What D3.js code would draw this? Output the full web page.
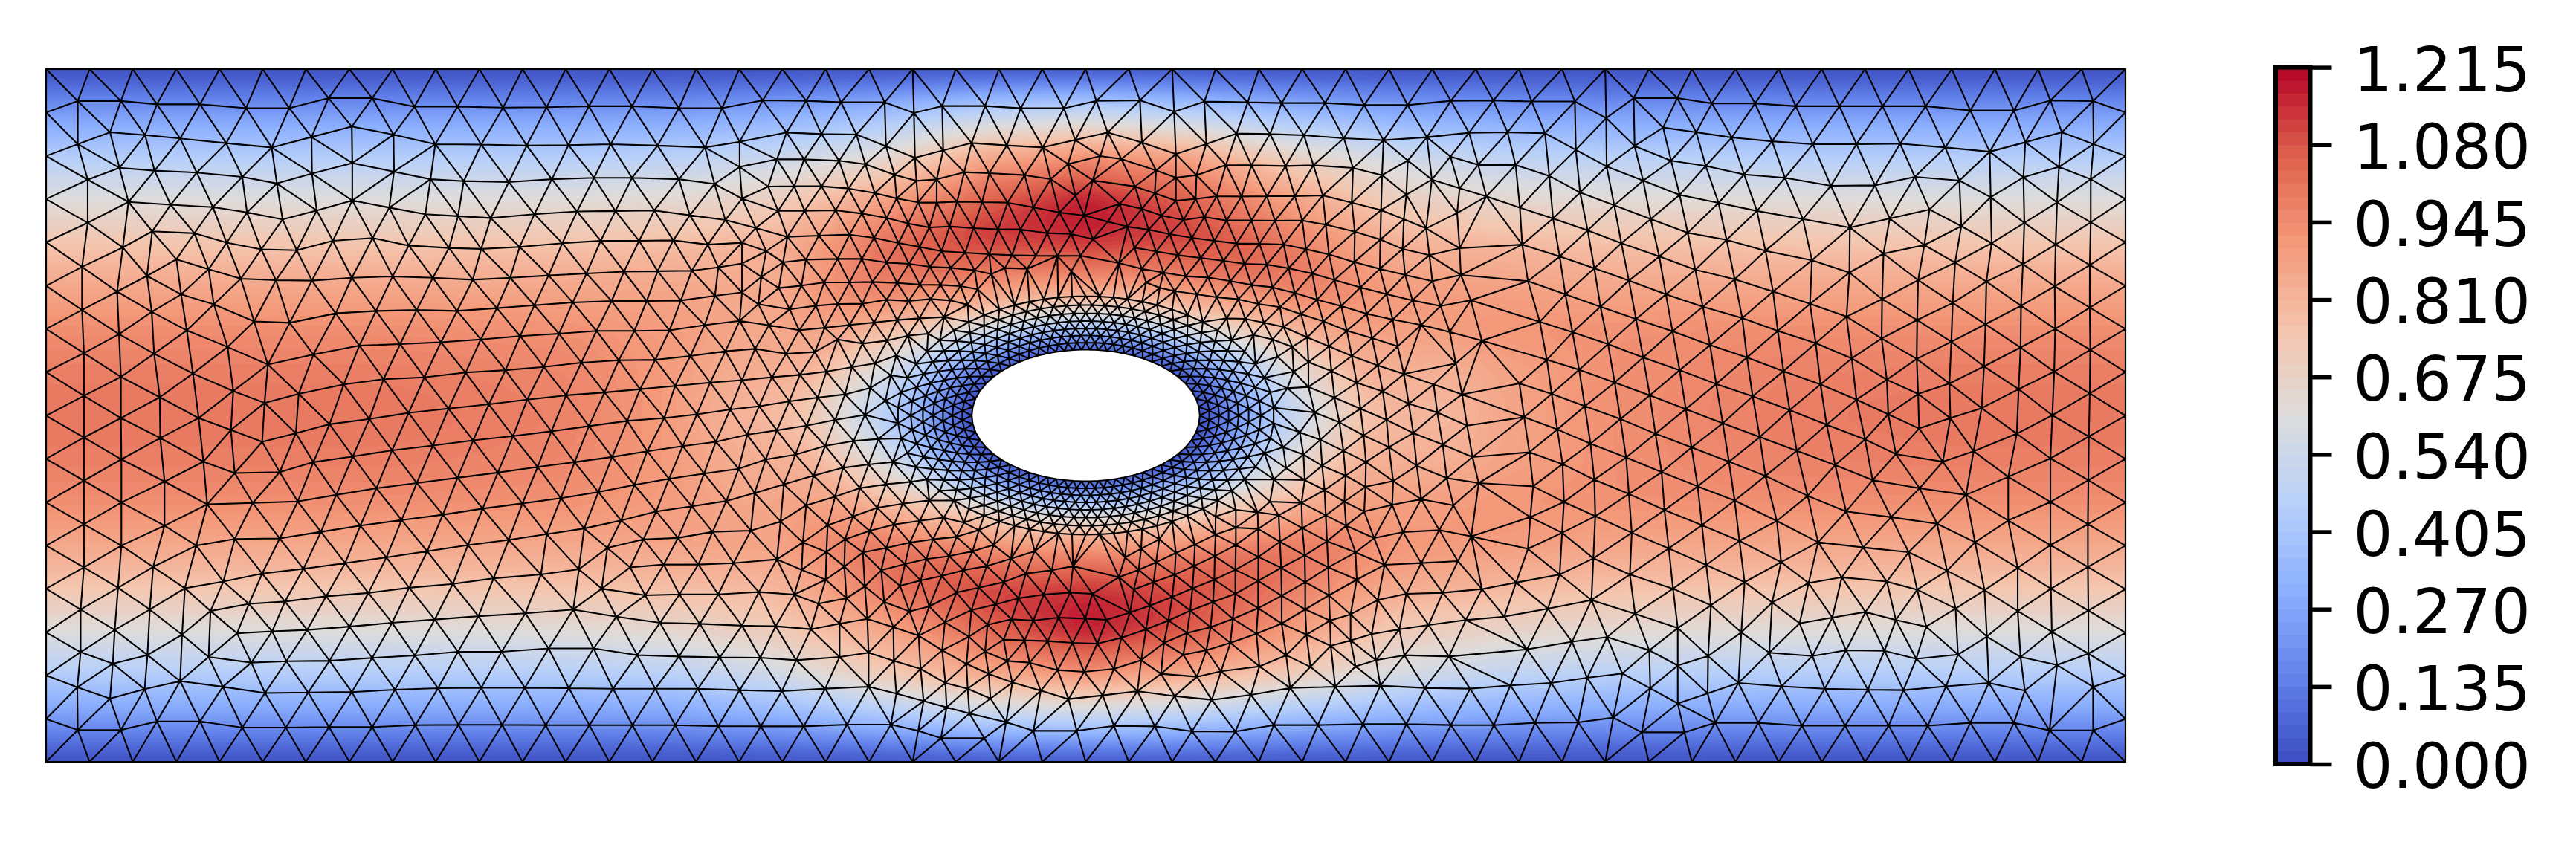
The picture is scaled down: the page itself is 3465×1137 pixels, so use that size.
<!DOCTYPE html>
<html>
<head>
<meta charset="utf-8">
<script src="https://cdn.jsdelivr.net/npm/d3@7"></script>
<style>
  body { margin: 0; background: #fff; }
  svg { display: block; }
  text { font-family: "DejaVu Sans", sans-serif; }
</style>
</head>
<body>
<svg id="chart" width="3465" height="1137"></svg>
<script>
// colour scale
const colorTicks = [0, 0.135, 0.27, 0.405, 0.54, 0.675, 0.81, 0.945, 1.08, 1.215];
const coolwarm = ['#3b4cc0', '#6282ea', '#8db0fe', '#b8d0f9', '#dddcdc', '#f4c4ac', '#f4987a', '#de604d', '#b40426'];

// speed, away from the obstacle
const fieldX = [0, 0.25, 0.5, 0.75, 0.9, 1.05, 1.2, 1.35, 1.5, 1.65, 1.8, 1.95, 2.1, 2.25, 2.5, 2.75, 3];
const fieldY = [0, 0.0625, 0.125, 0.1875, 0.25, 0.3125, 0.375, 0.4375, 0.5, 0.5625, 0.625, 0.6875, 0.75, 0.8125, 0.875, 0.9375, 1];
const fieldValues = [
  [0, 0, 0, 0, 0, 0, 0, 0, 0, 0, 0, 0, 0, 0, 0, 0, 0],
  [.23, .23, .23, .23, .24, .30, .38, .48, .50, .45, .36, .30, .26, .24, .23, .23, .23],
  [.44, .44, .44, .44, .46, .55, .72, .85, .92, .85, .72, .58, .49, .46, .44, .44, .44],
  [.61, .61, .61, .62, .65, .72, .85, 1.03, 1.18, 1.08, .90, .72, .67, .64, .62, .61, .61],
  [.75, .75, .75, .76, .78, .80, .98, 1.12, 1.19, 1.10, .98, .85, .80, .77, .76, .75, .75],
  [.86, .86, .86, .86, .87, .88, 1.0, 1.02, 1.0, 1.05, 1.0, .92, .90, .87, .86, .86, .86],
  [.94, .94, .94, .93, .90, .85, .8, .7, .7, .72, .8, .88, .92, .93, .94, .94, .94],
  [.98, .98, .98, .96, .90, .80, .62, .4, .3, .4, .6, .78, .87, .93, .97, .98, .98],
  [1, 1, 1, .97, .90, .76, .55, .3, 0, .3, .55, .74, .86, .93, .98, 1, 1],
  [.98, .98, .98, .96, .90, .80, .62, .4, .3, .4, .6, .78, .87, .93, .97, .98, .98],
  [.94, .94, .94, .93, .90, .85, .8, .7, .7, .72, .8, .88, .92, .93, .94, .94, .94],
  [.86, .86, .86, .86, .86, .85, .96, 1.0, .95, 1.0, .97, .90, .88, .86, .86, .86, .86],
  [.75, .75, .75, .76, .78, .82, 1.0, 1.15, 1.2, 1.12, .98, .82, .80, .77, .76, .75, .75],
  [.61, .61, .61, .62, .64, .70, .87, 1.05, 1.18, 1.06, .88, .70, .65, .63, .62, .61, .61],
  [.44, .44, .44, .44, .46, .52, .62, .85, .93, .88, .68, .55, .48, .46, .44, .44, .44],
  [.23, .23, .23, .23, .24, .28, .36, .48, .52, .46, .35, .28, .25, .24, .23, .23, .23],
  [0, 0, 0, 0, 0, 0, 0, 0, 0, 0, 0, 0, 0, 0, 0, 0, 0]
];

// speed around the obstacle: angle on the ellipse against distance in ellipse radii
const nearAngle = [0, 30, 60, 90, 120, 150, 180, 210, 240, 270, 300, 330];
const nearRadius = [1, 1.1, 1.25, 1.5, 1.75, 2, 2.5, 3.2];
const nearValues = [
  [0, .06, .16, .34, .47, .58, .78, .90],
  [0, .08, .20, .40, .55, .68, .86, .98],
  [0, .12, .30, .54, .72, .86, 1.02, 1.10],
  [0, .13, .33, .58, .78, .92, 1.10, 1.21],
  [0, .12, .30, .54, .72, .86, 1.02, 1.10],
  [0, .08, .20, .40, .55, .68, .86, .96],
  [0, .06, .16, .33, .45, .55, .76, .88],
  [0, .08, .20, .40, .55, .68, .86, .96],
  [0, .12, .30, .54, .72, .86, 1.02, 1.10],
  [0, .13, .33, .58, .78, .92, 1.10, 1.21],
  [0, .12, .30, .54, .72, .86, 1.02, 1.10],
  [0, .08, .20, .40, .55, .68, .86, .98]
];

// obstacle and the fine rings of elements round it
const ellipseA = 0.1645;
const ellipseB = 0.095;
const ringOffsetA = [0, 0.014, 0.028, 0.042, 0.056, 0.071, 0.088, 0.107];
const ringOffsetB = [0, 0.0102, 0.0204, 0.0306, 0.0413, 0.0526, 0.0644, 0.0772];
const ringNodes = 62;

const meshLeft = [
  97,52, 189,52, 280,52, 372,52, 463,52, 554,52, 645,52, 737,52, 828,52, 919,52, 1011,52, 1102,52, 1193,52, 1285,52, 1376,52, 1468,52, 1559,52,
  97,143, 97,235, 97,326, 97,417, 97,509, 97,600, 97,691, 97,783, 97,874, 97,966, 97,1057, 97,1148, 97,1240, 97,1331, 97,1423, 97,1513,
  164,119, 255,119, 331,126, 422,126, 519,134, 610,134, 693,113, 785,113, 874,131, 965,131, 1061,133, 1153,132, 1242,130, 1333,130, 1432,134, 1523,134,
  164,210, 232,185, 306,191, 380,198, 477,208, 573,217, 657,195, 742,173, 830,190, 918,210, 1015,211, 1111,213, 1199,212, 1288,210, 1387,213, 1487,217, 1560,205,
  185,285, 252,260, 326,266, 415,270, 511,279, 584,293, 658,272, 743,250, 831,268, 908,284, 978,288, 1073,290, 1164,284, 1253,281, 1333,281, 1432,284, 1507,294, 1560,258,
  271,332, 360,338, 449,343, 521,354, 596,369, 668,350, 743,329, 821,344, 897,358, 966,362, 1035,366, 1127,358, 1217,352, 1298,351, 1380,350, 1455,360, 1530,370, 1565,325,
  185,376, 259,428, 321,394, 410,398, 478,418, 551,432, 626,434, 702,414, 786,408, 862,424, 947,429, 1015,431, 1096,427, 1186,419, 1267,414, 1348,414, 1420,413, 1493,422, 1565,418,
  173,469, 372,453, 440,474, 508,494, 582,497, 658,498, 742,492, 828,489, 913,492, 997,496, 1076,492, 1157,487, 1237,483, 1316,479, 1387,478, 1459,477, 1515,470, 1565,462,
  247,521, 310,488, 382,527, 451,548, 536,584, 611,587, 708,567, 793,562, 879,560, 964,562, 1048,556, 1127,550, 1208,544, 1290,541, 1364,541, 1436,540, 1508,530, 1565,523,
  173,560, 320,564, 394,603, 480,638, 565,675, 661,654, 758,635, 844,632, 930,628, 1014,622, 1097,615, 1179,610, 1258,604, 1338,604, 1412,603, 1486,592, 1560,583,
  177,651, 251,611, 325,652, 407,694, 492,731, 558,756, 630,737, 725,717, 809,706, 895,702, 982,692, 1066,687, 1147,680, 1226,671, 1305,666, 1382,665, 1456,657, 1530,647,
  177,741, 255,701, 337,744, 419,788, 487,813, 553,838, 624,820, 695,801, 779,790, 862,777, 946,768, 1031,759, 1112,749, 1194,740, 1275,734, 1350,727, 1424,720, 1498,713, 1565,708,
  177,829, 255,788, 338,830, 429,880, 495,904, 590,902, 661,881, 744,869, 827,856, 913,846, 998,835, 1082,826, 1163,816, 1242,805, 1323,794, 1401,788, 1470,780, 1540,770,
  177,920, 256,875, 347,922, 437,970, 533,967, 628,964, 709,950, 794,936, 879,925, 965,914, 1050,903, 1134,891, 1212,881, 1291,870, 1365,858, 1440,847, 1510,838,
  177,1012, 256,966, 347,1015, 414,1057, 495,1043, 590,1042, 677,1028, 760,1015, 847,1003, 934,992, 1018,979, 1102,968, 1183,957, 1262,944, 1338,929, 1411,916, 1485,905, 1558,895,
  177,1103, 256,1057, 323,1102, 390,1147, 471,1133, 553,1116, 640,1106, 728,1094, 815,1082, 901,1069, 987,1056, 1073,1045, 1153,1033, 1232,1021, 1310,1004, 1384,985, 1459,974, 1532,963,
  170,1192, 249,1146, 316,1192, 384,1245, 444,1195, 525,1180, 601,1175, 688,1164, 777,1157, 863,1146, 955,1138, 1041,1126, 1141,1118, 1221,1107, 1281,1062, 1357,1044, 1430,1041, 1503,1028,
  242,1235, 500,1242, 574,1238, 648,1235, 737,1228, 827,1220, 917,1213, 1009,1206, 1108,1200, 1209,1192, 1269,1148, 1329,1103, 1400,1097, 1473,1097, 1547,1094,
  1361,1162, 1433,1160, 1515,1160, 1300,1207, 1392,1220, 1476,1222, 1565,1226,
  170,1282, 238,1306, 311,1288, 440,1292, 530,1304, 604,1301, 695,1300, 785,1294, 875,1289, 966,1281, 1058,1281, 1157,1274, 1252,1274, 1344,1288, 1432,1291, 1518,1293,
  163,1356, 232,1380, 305,1360, 380,1343, 470,1355, 559,1368, 650,1367, 742,1366, 833,1361, 924,1358, 1015,1357, 1107,1357, 1200,1358, 1293,1359, 1382,1359, 1472,1359, 1560,1362,
  164,1446, 255,1446, 331,1428, 422,1428, 511,1441, 603,1441, 694,1440, 785,1440, 876,1436, 967,1435, 1059,1435, 1151,1436, 1243,1436, 1334,1436, 1424,1436, 1515,1438,
  189,1513, 280,1513, 372,1513, 463,1513, 554,1513, 645,1513, 737,1513, 828,1513, 919,1513, 1011,1513, 1102,1513, 1193,1513, 1285,1513, 1376,1513, 1468,1513, 1559,1513
];

const meshTopLeft = [
  157,8, 332,8, 507,8, 683,8, 857,8, 1031,8, 1206,8, 1381,8,
  78,135, 253,137, 394,143, 570,143, 688,186, 802,158, 975,158, 1119,167, 1293,167, 1424,137,
  3,295, 174,265, 315,271, 456,273, 575,320, 692,367, 806,337, 921,307, 1063,317, 1208,325, 1339,295, 1470,265,
  135,373, 245,373, 386,379, 492,393, 610,436, 698,460, 780,454, 891,425, 992,429, 1135,437, 1240,453, 1310,392, 1440,360,
  100,483, 205,482, 315,482, 424,491, 530,509, 618,531, 705,547, 780,548, 862,544, 963,546, 1066,548, 1170,567, 1275,588, 1340,520, 1410,458,
  10,548, 140,581, 247,581, 372,579, 478,592, 578,610, 665,632, 750,648, 832,644, 928,651, 1028,656, 1118,656, 1226,671, 1322,674, 1375,600, 1470,625,
  50,650, 177,686, 304,681, 428,677, 527,690, 626,711, 711,727, 800,744, 895,750, 992,756, 1084,760, 1180,762, 1267,763, 1410,695, 1360,762,
  92,744, 160,789, 252,778, 380,775, 478,775, 578,790, 668,795, 752,807, 836,811, 933,821, 1000,836, 1055,812, 1145,815, 1190,830, 1323,825,
  72,848, 143,893, 234,883, 326,870, 428,870, 520,868, 620,872, 712,879, 795,880, 876,885, 945,898,
  60,958, 187,979, 293,964, 381,957, 480,956, 578,940, 667,945, 755,937, 835,943, 905,960, 975,970,
  103,1043, 225,1063, 328,1053, 428,1042, 527,1032, 620,1022, 710,1015, 810,1010, 925,1022,
  47,1138, 172,1158, 288,1151, 380,1100, 480,1117, 580,1105, 663,1085, 745,1077, 815,1075, 887,1077,
  115,1253, 228,1243, 335,1230, 438,1212, 530,1197, 617,1165, 695,1148, 770,1137, 840,1130,
  63,1370, 185,1350, 300,1335, 410,1322, 512,1296, 573,1348, 595,1245, 672,1210,
  370,1425, 490,1405
];

const meshTopRight = [
  55,8, 230,8, 405,8, 580,8, 755,8, 930,8, 1105,8, 1280,8, 1455,8,
  100,135, 238,181, 360,140, 535,143, 672,146, 847,146, 1005,154, 1180,154, 1355,137,
  108,305, 245,352, 368,311, 490,269, 625,271, 762,276, 923,288, 1083,296, 1258,284, 1428,266,
  25,372, 165,418, 245,447, 328,437, 447,396, 550,397, 688,400, 800,397, 960,408, 1077,437, 1181,378, 1353,362, 1465,395,
  80,483, 160,510, 245,540, 325,533, 410,522, 510,523, 612,522, 725,522, 838,519, 955,548, 1073,578, 1175,516, 1278,455, 1390,490, 1498,523,
  18,553, 108,573, 187,600, 275,618, 360,606, 450,620, 550,620, 645,621, 755,620, 850,637, 967,665, 1070,697, 1165,615, 1255,652, 1380,590,
  50,645, 135,657, 220,675, 310,690, 400,702, 490,713, 582,714, 680,717, 770,736, 863,757, 965,788, 1068,815, 1160,735, 1268,760, 1390,732,
  78,730, 165,745, 253,760, 345,771, 437,783, 522,795, 612,798, 700,813, 795,834, 885,860, 990,890, 1095,917, 1170,840, 1280,865, 1395,840,
  15,792, 107,815, 195,830, 285,845, 375,850, 465,865, 550,880, 635,890, 725,913, 815,940, 912,965, 1015,997, 1120,1020, 1200,943, 1313,965, 1435,942,
  60,915, 125,870, 180,892, 240,905, 330,918, 410,930, 497,938, 578,957, 665,970, 750,998, 840,1027, 935,1065, 1037,1095, 1140,1128, 1235,1042, 1350,1070, 1480,1105,
  290,988, 370,1000, 450,1015, 525,1017, 600,1033, 680,1050, 775,1092, 863,1128, 955,1167, 1060,1205, 1165,1240, 1285,1282, 1375,1197,
  408,1047, 478,1070, 558,1082, 635,1100, 715,1130, 780,1192, 873,1228, 975,1275, 1080,1310, 1185,1360, 1300,1395, 1400,1322,
  505,1150, 578,1160, 655,1170, 720,1230, 780,1292, 885,1335, 990,1380, 1095,1425,
  550,1275, 610,1300, 695,1297, 805,1395, 905,1435,
  565,1350, 660,1385
];

const meshBottomLeft = [
  15,75, 135,57, 255,38, 372,15, 490,0,
  90,175, 210,155, 330,120, 445,100, 545,92, 648,117,
  45,310, 163,275, 283,240, 402,208, 505,195, 603,185, 680,185, 755,190,
  150,425, 253,360, 370,325, 470,290, 575,275, 675,265, 755,263, 820,235,
  30,462, 240,510, 340,440, 442,405, 540,370, 643,353, 750,340, 820,310,
  135,578, 335,548, 410,497, 510,463, 608,437, 712,422, 808,410, 890,430, 905,375,
  0,590, 235,620, 407,607, 482,550, 577,532, 672,510, 765,497, 860,487, 950,460, 1040,435, 1105,420,
  62,710, 205,720, 332,660, 490,687, 556,622, 652,597, 738,577, 830,565, 925,545, 1010,520, 1105,490, 1175,465,
  130,848, 302,757, 416,735, 568,750, 632,685, 715,663, 800,645, 888,622, 982,605, 1080,575, 1175,545, 1260,510, 1230,480,
  0,845, 272,860, 388,838, 500,818, 670,788, 750,768, 860,712, 950,692, 1050,670, 1140,635, 1245,622, 1330,605,
  68,975, 213,985, 388,972, 505,955, 605,852, 707,886, 813,832, 920,783, 1018,760, 1110,735, 1212,720, 1318,712, 1408,717,
  155,1110, 330,1100, 505,1092, 607,988, 802,945, 910,890, 985,842, 1082,820, 1170,825, 1272,813, 1380,817, 1465,822,
  70,1252, 243,1252, 418,1245, 595,1245, 617,1120, 715,1020, 900,1000, 975,950, 1050,902, 1135,905, 1228,908, 1328,915, 1428,918,
  727,1150, 815,1077, 990,1040, 1065,988, 1155,995, 1268,1025, 1375,1032, 1495,1020,
  820,1175, 905,1100, 1085,1075, 1200,1108, 1312,1142, 1450,1127,
  705,1270, 797,1300, 912,1200, 997,1140, 1060,1235, 1170,1270, 1345,1270, 1495,1250,
  972,1300,
  157,1395, 332,1395, 507,1395, 683,1395, 857,1395, 1031,1395, 1206,1395, 1381,1395
];

const meshBottomRight = [
  55,1395, 230,1395, 405,1395, 580,1395, 755,1395, 930,1395, 1105,1395, 1280,1395, 1455,1395,
  160,1252, 310,1272, 485,1273, 640,1247, 818,1247, 1000,1243, 1175,1243, 1355,1247,
  90,1110, 240,1130, 390,1145, 548,1125, 706,1097, 888,1092, 1070,1088, 1250,1097, 1432,1100,
  185,1040, 330,1052, 427,1030, 582,1010, 788,1012, 970,1010, 1053,985, 1167,965, 1347,970,
  105,985, 275,963, 368,945, 465,915, 690,965, 870,927, 950,905, 1035,880, 1147,860, 1265,843, 1415,823,
  25,895, 197,915, 290,875, 385,852, 570,878, 772,882, 867,825, 950,800, 1060,742, 1175,717, 1322,713, 1480,698,
  125,860, 215,825, 303,785, 475,818, 672,837, 767,780, 863,723, 975,660, 1087,600, 1235,593, 1383,585,
  60,793, 140,765, 230,730, 395,750, 577,775, 672,725, 767,670, 860,610, 970,550, 1045,492, 1162,468, 1308,460, 1437,485,
  75,700, 155,670, 312,695, 485,717, 577,665, 670,612, 765,562, 855,505, 932,442, 1005,385, 1118,358, 1235,335, 1365,360,
  15,650, 95,620, 240,640, 400,660, 485,620, 578,568, 665,507, 755,452, 850,400, 925,345, 1010,285, 1122,262, 1338,250, 1467,270,
  40,570, 165,590, 318,605, 402,565, 487,520, 577,455, 660,400, 752,350, 845,298, 930,240, 1012,185, 1105,125, 1217,200, 1322,115, 1442,165,
  245,552, 322,518, 405,478, 487,450, 575,388, 625,345, 640,255, 690,210, 765,258, 835,200, 921,140,
  105,535, 178,497, 250,470, 325,428, 405,405, 487,378, 538,148, 600,95, 660,35, 678,125, 760,155,
  745,65, 828,95, 908,30, 1003,78, 1100,15, 1203,68, 1420,38
];

const meshRight = [
  146,52, 237,52, 328,52, 420,52, 511,52, 603,52, 694,52, 785,52, 876,52, 968,52, 1059,52, 1150,52, 1241,52, 1333,52, 1425,52,
  92,118, 173,120, 264,120, 330,155, 388,113, 480,113, 553,124, 644,124, 730,130, 822,130, 913,130, 1004,130, 1098,139, 1190,139, 1267,118, 1357,119, 1425,143,
  122,185, 201,187, 266,222, 390,214, 450,175, 520,185, 595,196, 680,204, 766,210, 858,210, 950,209, 1045,217, 1139,226, 1214,206, 1291,185, 1358,210, 1425,235,
  139,254, 210,277, 331,257, 408,287, 467,245, 540,256, 621,274, 707,281, 804,298, 897,297, 981,279, 1075,287, 1141,322, 1210,280, 1285,258, 1352,284, 1425,326,
  148,344, 275,312, 347,339, 424,368, 485,317, 567,334, 648,351, 745,368, 844,386, 928,367, 1012,348, 1079,383, 1212,376, 1281,333, 1352,375, 1425,417,
  153,422, 218,367, 291,392, 362,419, 442,447, 502,397, 584,412, 666,435, 764,455, 843,481, 915,441, 1001,423, 1066,460, 1143,419, 1209,463, 1278,422, 1350,465, 1425,509,
  165,499, 232,447, 305,472, 378,498, 456,527, 518,475, 601,495, 682,521, 760,547, 837,574, 912,537, 988,497, 1061,545, 1132,500, 1205,551, 1276,510, 1350,555, 1425,600,
  190,585, 244,527, 318,553, 393,579, 470,605, 534,553, 617,577, 692,604, 772,630, 848,662, 911,620, 986,581, 1058,627, 1130,590, 1204,639, 1277,600, 1351,644, 1425,691,
  205,665, 259,607, 334,632, 408,660, 485,687, 549,634, 627,660, 704,689, 782,717, 858,749, 922,707, 985,663, 1054,715, 1127,679, 1200,727, 1275,690, 1350,736, 1425,783,
  147,715, 215,737, 273,686, 348,713, 422,740, 498,769, 562,716, 639,742, 717,771, 795,802, 876,833, 925,780, 988,737, 1056,788, 1122,767, 1196,821, 1271,782, 1348,827, 1425,874,
  157,786, 227,812, 285,763, 360,790, 434,821, 510,850, 576,799, 654,828, 732,857, 813,887, 892,919, 941,864, 990,810, 1040,880, 1105,858, 1178,912, 1267,873, 1347,919, 1425,966,
  168,860, 238,885, 297,842, 372,871, 447,902, 523,932, 589,880, 666,910, 755,952, 836,985, 931,997, 991,936, 1089,950, 1178,1004, 1267,965, 1346,1012, 1425,1057,
  176,932, 241,965, 305,918, 378,948, 453,982, 532,1014, 601,962, 690,1005, 777,1050, 872,1061, 968,1071, 1028,1011, 1108,1050, 1198,1104, 1267,1056, 1346,1102, 1425,1149,
  170,997, 237,1030, 307,995, 384,1030, 462,1063, 541,1098, 611,1047, 699,1092, 757,1136, 827,1124, 922,1133, 986,1150, 1049,1110, 1128,1151, 1198,1195, 1268,1148, 1347,1194, 1425,1241,
  165,1064, 232,1118, 303,1084, 380,1118, 471,1148, 551,1183, 622,1134, 680,1177, 738,1221, 807,1209, 877,1197, 941,1214, 1005,1228, 1067,1190, 1133,1249, 1204,1292, 1270,1239, 1347,1285, 1425,1332,
  140,1135, 207,1190, 299,1172, 391,1201, 481,1231, 615,1240, 674,1283, 765,1290, 836,1278, 917,1279, 984,1296, 1072,1287, 1137,1347, 1213,1363, 1281,1309, 1357,1355, 1425,1423,
  115,1207, 258,1260, 332,1250, 421,1278, 481,1310, 545,1290, 609,1347, 700,1354, 791,1359, 882,1361, 957,1362, 1047,1354,
  163,1276, 290,1336, 364,1327, 423,1358, 481,1390, 544,1369, 560,1431, 651,1431, 743,1437, 834,1437, 926,1437, 1008,1437, 1098,1431, 1190,1431, 1265,1447, 1357,1447,
  128,1352, 214,1347, 345,1420, 405,1451, 495,1451, 271,1430, 180,1431, 93,1436,
  146,1513, 237,1513, 328,1513, 420,1513, 511,1513, 603,1513, 694,1513, 785,1513, 876,1513, 968,1513, 1059,1513, 1150,1513, 1241,1513, 1333,1513, 1425,1513
];

// crop origin and magnification of each digitised list
const crops = [
  { nodes: meshLeft, ox: 0, oy: 60, k: 1.568 },
  { nodes: meshTopLeft, ox: 1000, oy: 90, k: 3 },
  { nodes: meshTopRight, ox: 1500, oy: 90, k: 3 },
  { nodes: meshBottomLeft, ox: 1000, oy: 560, k: 3 },
  { nodes: meshBottomRight, ox: 1500, oy: 560, k: 3 },
  { nodes: meshRight, ox: 1950, oy: 60, k: 1.568 }
];

const svg = d3.select('#chart');

const plotLeft = 62, plotRight = 2859, plotTop = 93, plotBottom = 1025;
const x = d3.scaleLinear().domain([0, 3]).range([plotLeft, plotRight]);
const y = d3.scaleLinear().domain([0, 1]).range([plotBottom, plotTop]);

const color = d3.scaleLinear()
  .domain(coolwarm.map((d, i) => i / (coolwarm.length - 1) * 1.215))
  .range(coolwarm)
  .interpolate(d3.interpolateRgb);

// bilinear lookup helpers
function bracket(axis, v) {
  const i = Math.max(0, Math.min(axis.length - 2, d3.bisectRight(axis, v) - 1));
  return [i, Math.max(0, Math.min(1, (v - axis[i]) / (axis[i + 1] - axis[i])))];
}

function farField(px, py) {
  const [i, s] = bracket(fieldX, px);
  const [j, t] = bracket(fieldY, py);
  const a = d3.interpolateNumber(fieldValues[j][i], fieldValues[j][i + 1])(s);
  const b = d3.interpolateNumber(fieldValues[j + 1][i], fieldValues[j + 1][i + 1])(s);
  return a + (b - a) * t;
}

function radiusOf(px, py) {
  return Math.hypot((px - 1.5) / ellipseA, (py - 0.5) / ellipseB);
}

function nearField(px, py, r) {
  let deg = Math.atan2((py - 0.5) / ellipseB, (px - 1.5) / ellipseA) * 180 / Math.PI;
  if (deg < 0) deg += 360;
  const i = Math.floor(deg / 30) % 12;
  const s = deg / 30 - Math.floor(deg / 30);
  const [j, t] = bracket(nearRadius, r);
  const row0 = nearValues[i], row1 = nearValues[(i + 1) % 12];
  const a = row0[j] + (row1[j] - row0[j]) * s;
  const b = row0[j + 1] + (row1[j + 1] - row0[j + 1]) * s;
  return a + (b - a) * t;
}

function speed(px, py) {
  const r = radiusOf(px, py);
  if (r <= 1) return 0;
  if (r >= 3.2) return farField(px, py);
  if (r <= 2.5) return nearField(px, py, r);
  const w = (r - 2.5) / 0.7;
  return nearField(px, py, r) * (1 - w) + farField(px, py) * w;
}

// field as filled contours
const cell = 4;
const gridW = Math.ceil((plotRight - plotLeft) / cell) + 1;
const gridH = Math.ceil((plotBottom - plotTop) / cell) + 1;
const grid = new Float64Array(gridW * gridH);
for (let j = 0; j < gridH; j++) {
  for (let i = 0; i < gridW; i++) {
    grid[j * gridW + i] = speed(x.invert(plotLeft + i * cell), y.invert(plotTop + j * cell));
  }
}
d3.blur2({ data: grid, width: gridW, height: gridH }, 2.5);

const step = 1.215 / 90;
const contours = d3.contours().size([gridW, gridH]).thresholds(d3.range(0, 1.215, step));
const toPixels = d3.geoPath(d3.geoIdentity().scale(cell).translate([plotLeft - cell / 2, plotTop - cell / 2]));

svg.append('clipPath').attr('id', 'plot-clip').append('rect')
  .attr('x', plotLeft).attr('y', plotTop)
  .attr('width', plotRight - plotLeft).attr('height', plotBottom - plotTop);

svg.append('rect')
  .attr('x', plotLeft).attr('y', plotTop)
  .attr('width', plotRight - plotLeft).attr('height', plotBottom - plotTop)
  .attr('fill', color(0));

svg.append('g').attr('clip-path', 'url(#plot-clip)')
  .selectAll('path')
  .data(contours(grid))
  .enter()
  .append('path')
  .attr('d', toPixels)
  .attr('fill', d => color(d.value + step / 2));

// nodes in data units
const points = [];
const rings = [];
ringOffsetA.forEach((da, ring) => {
  const nodes = d3.range(ringNodes).map(n => {
    const t = (n + (ring % 2) / 2) / ringNodes * 2 * Math.PI;
    const th = t + 0.14 * Math.sin(2 * t);
    return [1.5 + (ellipseA + da) * Math.cos(th), 0.5 + (ellipseB + ringOffsetB[ring]) * Math.sin(th)];
  });
  rings.push(nodes);
  points.push(...nodes);
});

const outerA = ellipseA + ringOffsetA[ringOffsetA.length - 1] + 0.009;
const outerB = ellipseB + ringOffsetB[ringOffsetB.length - 1] + 0.009;

crops.forEach(c => {
  for (let i = 0; i < c.nodes.length; i += 2) {
    const px = c.ox + c.nodes[i] / c.k;
    const py = c.oy + c.nodes[i + 1] / c.k;
    let dx = x.invert(px), dy = y.invert(py);
    // snap to the walls
    if (dx < 0.006) dx = 0;
    if (dx > 2.994) dx = 3;
    if (dy < 0.006) dy = 0;
    if (dy > 0.994) dy = 1;
    if (Math.hypot((dx - 1.5) / outerA, (dy - 0.5) / outerB) < 1) continue;
    if (points.some(p => Math.hypot(p[0] - dx, p[1] - dy) < 0.018)) continue;
    points.push([dx, dy]);
  }
});

// corners
[[0, 0], [3, 0], [0, 1], [3, 1]].forEach(c => {
  if (!points.some(p => p[0] === c[0] && p[1] === c[1])) points.push(c);
});

// hole
svg.append('path')
  .attr('d', d3.line().x(d => x(d[0])).y(d => y(d[1])).curve(d3.curveLinearClosed)(rings[0]))
  .attr('fill', '#fff');

// triangulate and draw the element edges
const delaunay = d3.Delaunay.from(points);
const edges = d3.path();
for (let t = 0; t < delaunay.triangles.length; t += 3) {
  const a = points[delaunay.triangles[t]];
  const b = points[delaunay.triangles[t + 1]];
  const c = points[delaunay.triangles[t + 2]];
  if (radiusOf((a[0] + b[0] + c[0]) / 3, (a[1] + b[1] + c[1]) / 3) < 1.01) continue;
  edges.moveTo(x(a[0]), y(a[1]));
  edges.lineTo(x(b[0]), y(b[1]));
  edges.lineTo(x(c[0]), y(c[1]));
  edges.closePath();
}
svg.append('path')
  .attr('d', edges.toString())
  .attr('fill', 'none')
  .attr('stroke', '#000')
  .attr('stroke-width', 2.1)
  .attr('stroke-linejoin', 'round');

svg.append('rect')
  .attr('x', plotLeft).attr('y', plotTop)
  .attr('width', plotRight - plotLeft).attr('height', plotBottom - plotTop)
  .attr('fill', 'none')
  .attr('stroke', '#000')
  .attr('stroke-width', 2.1);

// colour bar
const barLeft = 3061, barRight = 3107.5;
const barScale = d3.scaleLinear().domain([0, 1.215]).range([1028, 90.6]);
const barStep = 1.215 / 54;

svg.append('g')
  .selectAll('rect')
  .data(d3.range(0, 1.215 - barStep / 2, barStep))
  .enter()
  .append('rect')
  .attr('x', barLeft)
  .attr('y', d => barScale(d + barStep) - 0.5)
  .attr('width', barRight - barLeft)
  .attr('height', d => barScale(d) - barScale(d + barStep) + 1)
  .attr('fill', d => color(d + barStep / 2));

svg.append('rect')
  .attr('x', barLeft).attr('y', barScale(1.215))
  .attr('width', barRight - barLeft)
  .attr('height', barScale(0) - barScale(1.215))
  .attr('fill', 'none')
  .attr('stroke', '#000')
  .attr('stroke-width', 6);

const barAxis = svg.append('g')
  .attr('transform', `translate(${barRight},0)`)
  .call(d3.axisRight(barScale)
    .tickValues(colorTicks)
    .tickFormat(d3.format('.3f'))
    .tickSize(29)
    .tickPadding(29));

barAxis.select('.domain').remove();
barAxis.selectAll('.tick line').attr('stroke', '#000').attr('stroke-width', 5.5);
barAxis.selectAll('.tick text')
  .attr('fill', '#000')
  .attr('dy', '0.38em')
  .style('font-family', '"DejaVu Sans", sans-serif')
  .style('font-size', '83.3px');
</script>
</body>
</html>
